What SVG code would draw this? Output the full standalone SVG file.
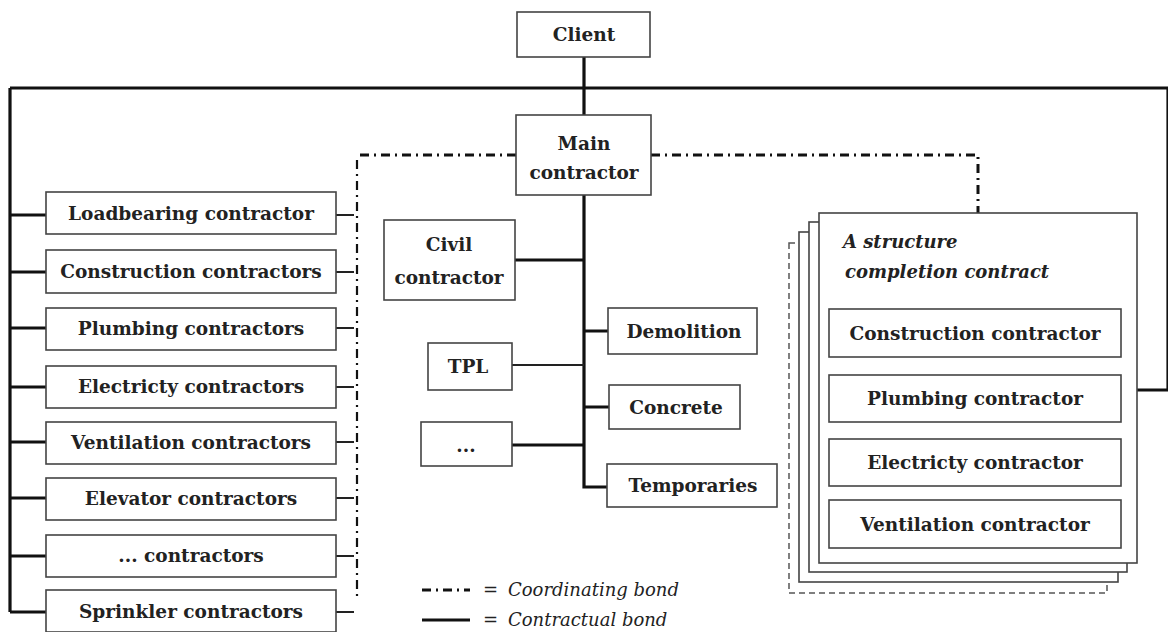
<svg xmlns="http://www.w3.org/2000/svg" width="1168" height="632" viewBox="0 0 1168 632">
<style>
.box{fill:#fff;stroke:#444;stroke-width:1.6}
.t{font-family:"DejaVu Serif","Liberation Serif",serif;font-weight:bold;font-size:18.5px;fill:#222;text-anchor:middle}
.it{font-family:"DejaVu Serif","Liberation Serif",serif;font-weight:bold;font-style:italic;font-size:18px;fill:#222}
.lg{font-family:"DejaVu Serif","Liberation Serif",serif;font-style:italic;font-size:18px;fill:#222}
.c{stroke:#111;stroke-width:3.2;fill:none}
.thin{stroke:#222;stroke-width:2;fill:none}
.co{stroke:#111;stroke-width:3;fill:none;stroke-dasharray:9 5 2 5}
.cov{stroke:#111;stroke-width:2.2;fill:none;stroke-dasharray:9 5 2 5}
</style>
<rect width="1168" height="632" fill="#fff"/>
<g id="connectors">
<path class="c" d="M584 57V115M10 88H1168M10 88V612M1168 88V390H1137"/>
<path class="c" d="M10 215H46M10 272H46M10 328H46M10 387H46M10 442H46M10 498H46M10 556H46M10 612H46"/>
<path class="c" d="M584 195V487H607M515 260H584M584 331H608M584 407H609M512 445H584"/>
<path class="thin" d="M512 365H584"/>
<path class="co" d="M516 155H357M651 155H978V213"/>
<path class="cov" d="M357 160V600"/>
<path class="thin" d="M336 215H354M336 272H354M336 328H354M336 387H354M336 442H354M336 498H354M336 556H354M336 612H354"/>
</g>
<g id="client"><rect class="box" x="517" y="12" width="133" height="45"/><text class="t" x="584" y="41">Client</text></g>
<g id="main"><rect class="box" x="516" y="115" width="135" height="80"/><text class="t" x="584" y="150">Main</text><text class="t" x="584" y="179">contractor</text></g>
<g id="loadbearing"><rect class="box" x="46" y="192" width="290" height="42"/><text class="t" x="191" y="220">Loadbearing contractor</text></g>
<g id="construction"><rect class="box" x="46" y="250" width="290" height="43"/><text class="t" x="191" y="278">Construction contractors</text></g>
<g id="plumbing"><rect class="box" x="46" y="308" width="290" height="42"/><text class="t" x="191" y="335">Plumbing contractors</text></g>
<g id="electricity"><rect class="box" x="46" y="366" width="290" height="42"/><text class="t" x="191" y="393">Electricty contractors</text></g>
<g id="ventilation"><rect class="box" x="46" y="422" width="290" height="42"/><text class="t" x="191" y="449">Ventilation contractors</text></g>
<g id="elevator"><rect class="box" x="46" y="478" width="290" height="42"/><text class="t" x="191" y="505">Elevator contractors</text></g>
<g id="etc"><rect class="box" x="46" y="535" width="290" height="42"/><text class="t" x="191" y="562">... contractors</text></g>
<g id="sprinkler"><rect class="box" x="46" y="590" width="290" height="42"/><text class="t" x="191" y="618">Sprinkler contractors</text></g>
<g id="civil"><rect class="box" x="384" y="220" width="131" height="80"/><text class="t" x="449" y="251">Civil</text><text class="t" x="449" y="284">contractor</text></g>
<g id="tpl"><rect class="box" x="428" y="343" width="84" height="47"/><text class="t" x="468" y="373">TPL</text></g>
<g id="dots"><rect class="box" x="421" y="422" width="91" height="44"/><text class="t" x="466" y="452">...</text></g>
<g id="demolition"><rect class="box" x="608" y="308" width="149" height="46"/><text class="t" x="684" y="338">Demolition</text></g>
<g id="concrete"><rect class="box" x="609" y="385" width="131" height="44"/><text class="t" x="676" y="414">Concrete</text></g>
<g id="temporaries"><rect class="box" x="607" y="464" width="170" height="43"/><text class="t" x="693" y="492">Temporaries</text></g>
<g id="completion">
<rect x="789" y="243" width="318" height="350" fill="#fff" stroke="#555" stroke-width="1.5" stroke-dasharray="6 4"/>
<rect class="box" x="799" y="232" width="319" height="350"/>
<rect class="box" x="809" y="222" width="318" height="350"/>
<rect class="box" x="819" y="213" width="318" height="350"/>
<text class="it" x="843" y="248">A structure</text>
<text class="it" x="845" y="278">completion contract</text>
<rect class="box" x="829" y="309" width="292" height="48"/><text class="t" x="975" y="340">Construction contractor</text>
<rect class="box" x="829" y="375" width="292" height="47"/><text class="t" x="975" y="405">Plumbing contractor</text>
<rect class="box" x="829" y="439" width="292" height="47"/><text class="t" x="975" y="469">Electricty contractor</text>
<rect class="box" x="829" y="500" width="292" height="48"/><text class="t" x="975" y="531">Ventilation contractor</text>
</g>
<g id="legend">
<path class="co" d="M422 590H470" stroke-dasharray="14 5 4 5"/>
<path class="c" d="M422 620H470" stroke-width="4"/>
<text class="lg" x="483" y="596">=</text>
<text class="lg" x="508" y="596">Coordinating bond</text>
<text class="lg" x="483" y="626">=</text>
<text class="lg" x="508" y="626">Contractual bond</text>
</g>
</svg>
